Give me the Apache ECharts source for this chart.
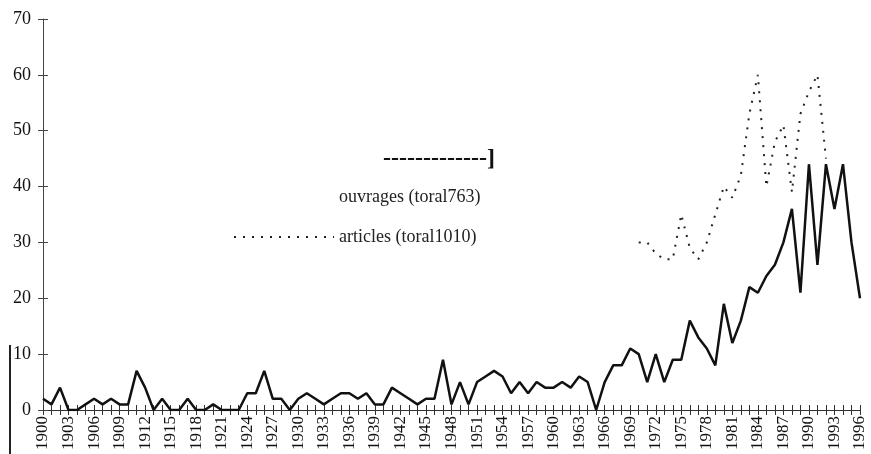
<!DOCTYPE html>
<html>
<head>
<meta charset="utf-8">
<script src="https://cdn.jsdelivr.net/npm/echarts@6/dist/echarts.min.js"></script>
<style>
  html, body { margin: 0; padding: 0; background: #fff; }
  #chart { width: 871px; height: 454px; }
</style>
</head>
<body>
<div id="chart"></div>
<script>
// years 1900..1996
var years = [];
for (var y = 1900; y <= 1996; y++) years.push(String(y));

// ouvrages per year
var ouvrages = [
  2, 1, 4, 0, 0, 1, 2, 1, 2, 1,        // 1900-1909
  1, 7, 4, 0, 2, 0, 0, 2, 0, 0,        // 1910-1919
  1, 0, 0, 0, 3, 3, 7, 2, 2, 0,        // 1920-1929
  2, 3, 2, 1, 2, 3, 3, 2, 3, 1,        // 1930-1939
  1, 4, 3, 2, 1, 2, 2, 9, 1, 5,        // 1940-1949
  1, 5, 6, 7, 6, 3, 5, 3, 5, 4,        // 1950-1959
  4, 5, 4, 6, 5, 0, 5, 8, 8, 11,       // 1960-1969
  10, 5, 10, 5, 9, 9, 16, 13, 11, 8,   // 1970-1979
  19, 12, 16, 22, 21, 24, 26, 30, 36, 21, // 1980-1989
  44, 26, 44, 36, 44, 30, 20           // 1990-1996
];

// articles: only the dotted fragments visible in the scan (1970-1992)
var articlesVisible = [
  30, 30, 28, 27, 27, 35, 29, 27, 30, 35, // 1970-1979
  40, 38, 42, 53, 60, 40, 48, 51, 39, 53, // 1980-1989
  57, 60, 45                              // 1990-1992
];
var articles = years.map(function (yr) {
  var i = Number(yr) - 1970;
  return (i >= 0 && i < articlesVisible.length) ? articlesVisible[i] : null;
});

var serif = '"Liberation Serif", "DejaVu Serif", serif';

var chart = echarts.init(document.getElementById('chart'));
chart.setOption({
  animation: false,
  backgroundColor: '#fff',
  grid: { left: 43, right: 11, top: 19, bottom: 44 },
  legend: {
    orient: 'vertical',
    left: 228,
    top: 183,
    itemWidth: 100,
    itemHeight: 16,
    itemGap: 22,
    textStyle: { fontFamily: serif, fontSize: 18, color: '#222' },
    data: [
      { name: 'ouvrages (toral763)', lineStyle: { opacity: 0 }, itemStyle: { opacity: 0 } },
      { name: 'articles (toral1010)', itemStyle: { opacity: 0 } }
    ]
  },
  xAxis: [{
    type: 'category',
    data: years,
    boundaryGap: false,
    axisLine: { lineStyle: { color: '#333', width: 1 } },
    axisTick: { interval: 0, length: 5, lineStyle: { color: '#333' } },
    axisLabel: {
      interval: 2, rotate: 90, margin: 6,
      fontFamily: serif, fontSize: 17, color: '#111'
    },
    splitLine: { show: false }
  }, {
    type: 'category',
    data: years,
    boundaryGap: false,
    position: 'bottom',
    axisLine: { show: false },
    axisTick: { inside: true, interval: 0, length: 5, lineStyle: { color: '#333' } },
    axisLabel: { show: false },
    splitLine: { show: false }
  }],
  yAxis: [{
    type: 'value',
    min: 0, max: 70, interval: 10,
    axisLine: { show: true, lineStyle: { color: '#444', width: 1 } },
    axisTick: { show: true, length: 5, lineStyle: { color: '#444' } },
    axisLabel: { margin: 12, fontFamily: serif, fontSize: 18, color: '#111' },
    splitLine: { show: false }
  }, {
    type: 'value',
    position: 'left',
    min: 0, max: 70, interval: 10,
    axisLine: { show: false },
    axisTick: { show: true, inside: true, length: 5, lineStyle: { color: '#444' } },
    axisLabel: { show: false },
    splitLine: { show: false }
  }],
  series: [{
    name: 'ouvrages (toral763)',
    type: 'line',
    data: ouvrages,
    symbol: 'none',
    lineStyle: { color: '#111', width: 2.5 },
    itemStyle: { color: '#111' }
  }, {
    name: 'articles (toral1010)',
    type: 'line',
    data: articles,
    symbol: 'none',
    connectNulls: false,
    lineStyle: { color: '#222', width: 2, type: [2, 7] },
    itemStyle: { color: '#222' }
  }],
  graphic: [{
    type: 'text',
    left: 383, top: 147,
    style: { text: '-------------]', font: 'bold 24px ' + serif, fill: '#111' }
  }, {
    type: 'rect',
    shape: { x: 9, y: 345, width: 2, height: 109 },
    style: { fill: '#222' }
  }]
});
</script>
</body>
</html>
